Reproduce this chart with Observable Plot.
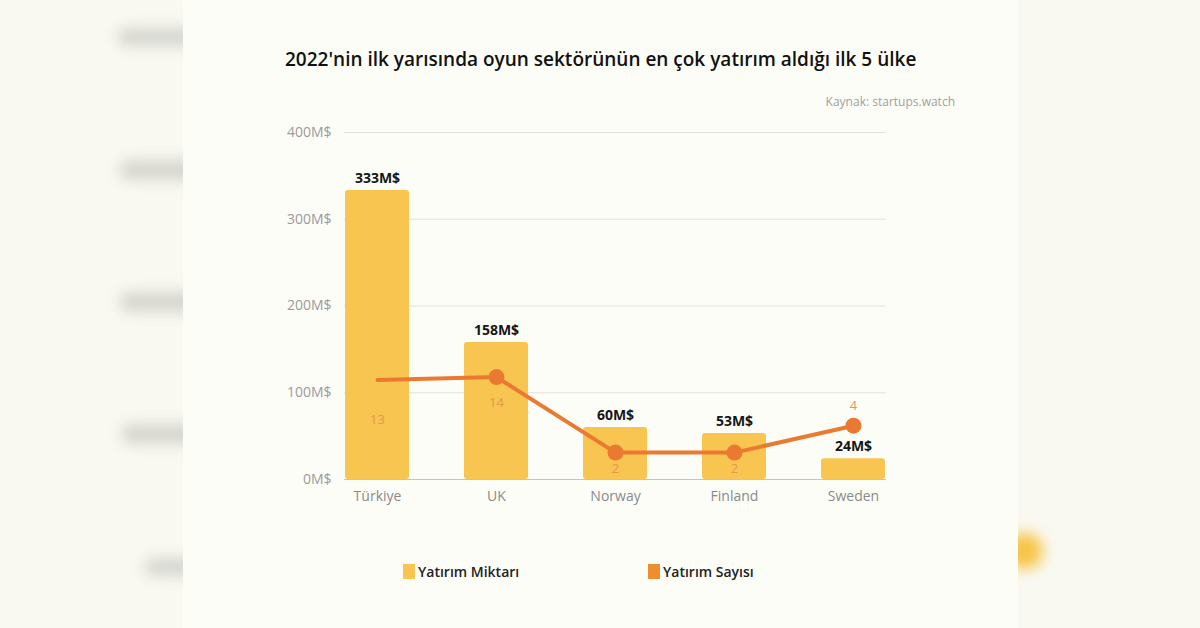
<!DOCTYPE html>
<html>
<head>
<meta charset="utf-8">
<script src="https://cdn.jsdelivr.net/npm/d3@7"></script>
<script src="https://cdn.jsdelivr.net/npm/@observablehq/plot@0.6"></script>
<style>
  html, body { margin: 0; padding: 0; }
  body { width: 1200px; height: 628px; background: #f9f9f1; position: relative; overflow: hidden; font-family: "Open Sans", sans-serif; }
  .blob { position: absolute; background: #d6d6d0; filter: blur(7px); border-radius: 8px; }
  .card { position: absolute; left: 183px; top: 0; width: 835px; height: 628px; background: #fdfdf8; }
  .title { position: absolute; left: 285px; top: 46px; font-size: 19px; font-weight: 600; color: #111; white-space: nowrap; }
  .source { position: absolute; right: 245px; top: 93px; font-size: 12px; color: #a0a0a0; white-space: nowrap; }
  #chart { position: absolute; left: 270px; top: 120px; }
  .legend { position: absolute; top: 562px; display: flex; align-items: center; font-size: 14px; font-weight: 600; color: #222; }
  .sw { width: 12px; height: 15px; margin-right: 3px; }
</style>
</head>
<body>
<div class="blob" style="left:118px;top:28px;width:80px;height:18px"></div>
<div class="blob" style="left:120px;top:160px;width:80px;height:20px"></div>
<div class="blob" style="left:120px;top:292px;width:80px;height:20px"></div>
<div class="blob" style="left:122px;top:424px;width:80px;height:20px"></div>
<div class="blob" style="left:145px;top:558px;width:60px;height:18px"></div>
<div class="blob" style="left:1005px;top:533px;width:38px;height:36px;background:#f6c548;border-radius:18px"></div>
<div class="card"></div>
<div class="title">2022'nin ilk yarısında oyun sektörünün en çok yatırım aldığı ilk 5 ülke</div>
<div class="source">Kaynak: startups.watch</div>
<div id="chart"></div>
<div class="legend" style="left:403px"><div class="sw" style="background:#f8c550"></div>Yatırım Miktarı</div>
<div class="legend" style="left:648px"><div class="sw" style="background:#ef8e2c"></div>Yatırım Sayısı</div>
<script>
// Data
const countries = ["Türkiye", "UK", "Norway", "Finland", "Sweden"];
const amounts = [333, 158, 60, 53, 24];        // Yatırım Miktarı (M$)
const counts = [13, 14, 2, 2, 4];              // Yatırım Sayısı
const yTicks = [0, 100, 200, 300, 400];
const amountLabels = ["333M$", "158M$", "60M$", "53M$", "24M$"];

// secondary (count) axis, logarithmic, expressed in primary units
const countAxis = c => 31 * Math.log2(c);

const data = countries.map((c, i) => ({
  country: c, amount: amounts[i], count: counts[i], label: amountLabels[i], idx: i
}));

const barColor = "#f8c550";
const lineColor = "#ea7a32";
const countColor = "#e3984f";
const cy = d => countAxis(d.count);

const chart = Plot.plot({
  width: 640,
  height: 400,
  marginLeft: 74,
  marginRight: 24,
  marginTop: 12,
  marginBottom: 41,
  style: { fontFamily: "Open Sans, sans-serif", background: "transparent", overflow: "visible" },
  x: { domain: countries, paddingInner: 0.464, paddingOuter: 0, label: null },
  y: { domain: [0, 400], label: null },
  marks: [
    Plot.gridY(yTicks.filter(t => t > 0), { stroke: "#e2e2dc", strokeOpacity: 1 }),
    Plot.barY(data, { x: "country", y: "amount", fill: barColor, rx: 3 }),
    Plot.ruleY([0], { stroke: "#c4c4be", strokeWidth: 1 }),
    Plot.text(data, { x: "country", y: "amount", text: "label", dy: -12, fontWeight: 700, fontSize: 14, fill: "#161616" }),
    Plot.line(data, { x: "country", y: cy, stroke: lineColor, strokeWidth: 4 }),
    Plot.dot(data.filter(d => d.idx > 0), { x: "country", y: cy, r: 8, fill: lineColor }),
    Plot.text(data.filter(d => d.idx === 0), { x: "country", y: cy, text: "count", dy: 40, fontSize: 13, fill: countColor }),
    Plot.text(data.filter(d => d.idx === 1), { x: "country", y: cy, text: "count", dy: 26, fontSize: 13, fill: countColor }),
    Plot.text(data.filter(d => d.idx >= 2 && d.idx < 4), { x: "country", y: cy, text: "count", dy: 16, fontSize: 13, fill: countColor }),
    Plot.text(data.filter(d => d.idx === 4), { x: "country", y: cy, text: "count", dy: -20, fontSize: 13, fill: countColor }),
    Plot.axisX({ tickSize: 0, tickPadding: 12, fontSize: 14, color: "#8a8a8a", label: null }),
    Plot.axisY({ ticks: yTicks, tickSize: 0, tickPadding: 13, fontSize: 14, color: "#9a9a9a", tickFormat: d => d + "M$", label: null })
  ]
});
document.getElementById("chart").appendChild(chart);
</script>
</body>
</html>
